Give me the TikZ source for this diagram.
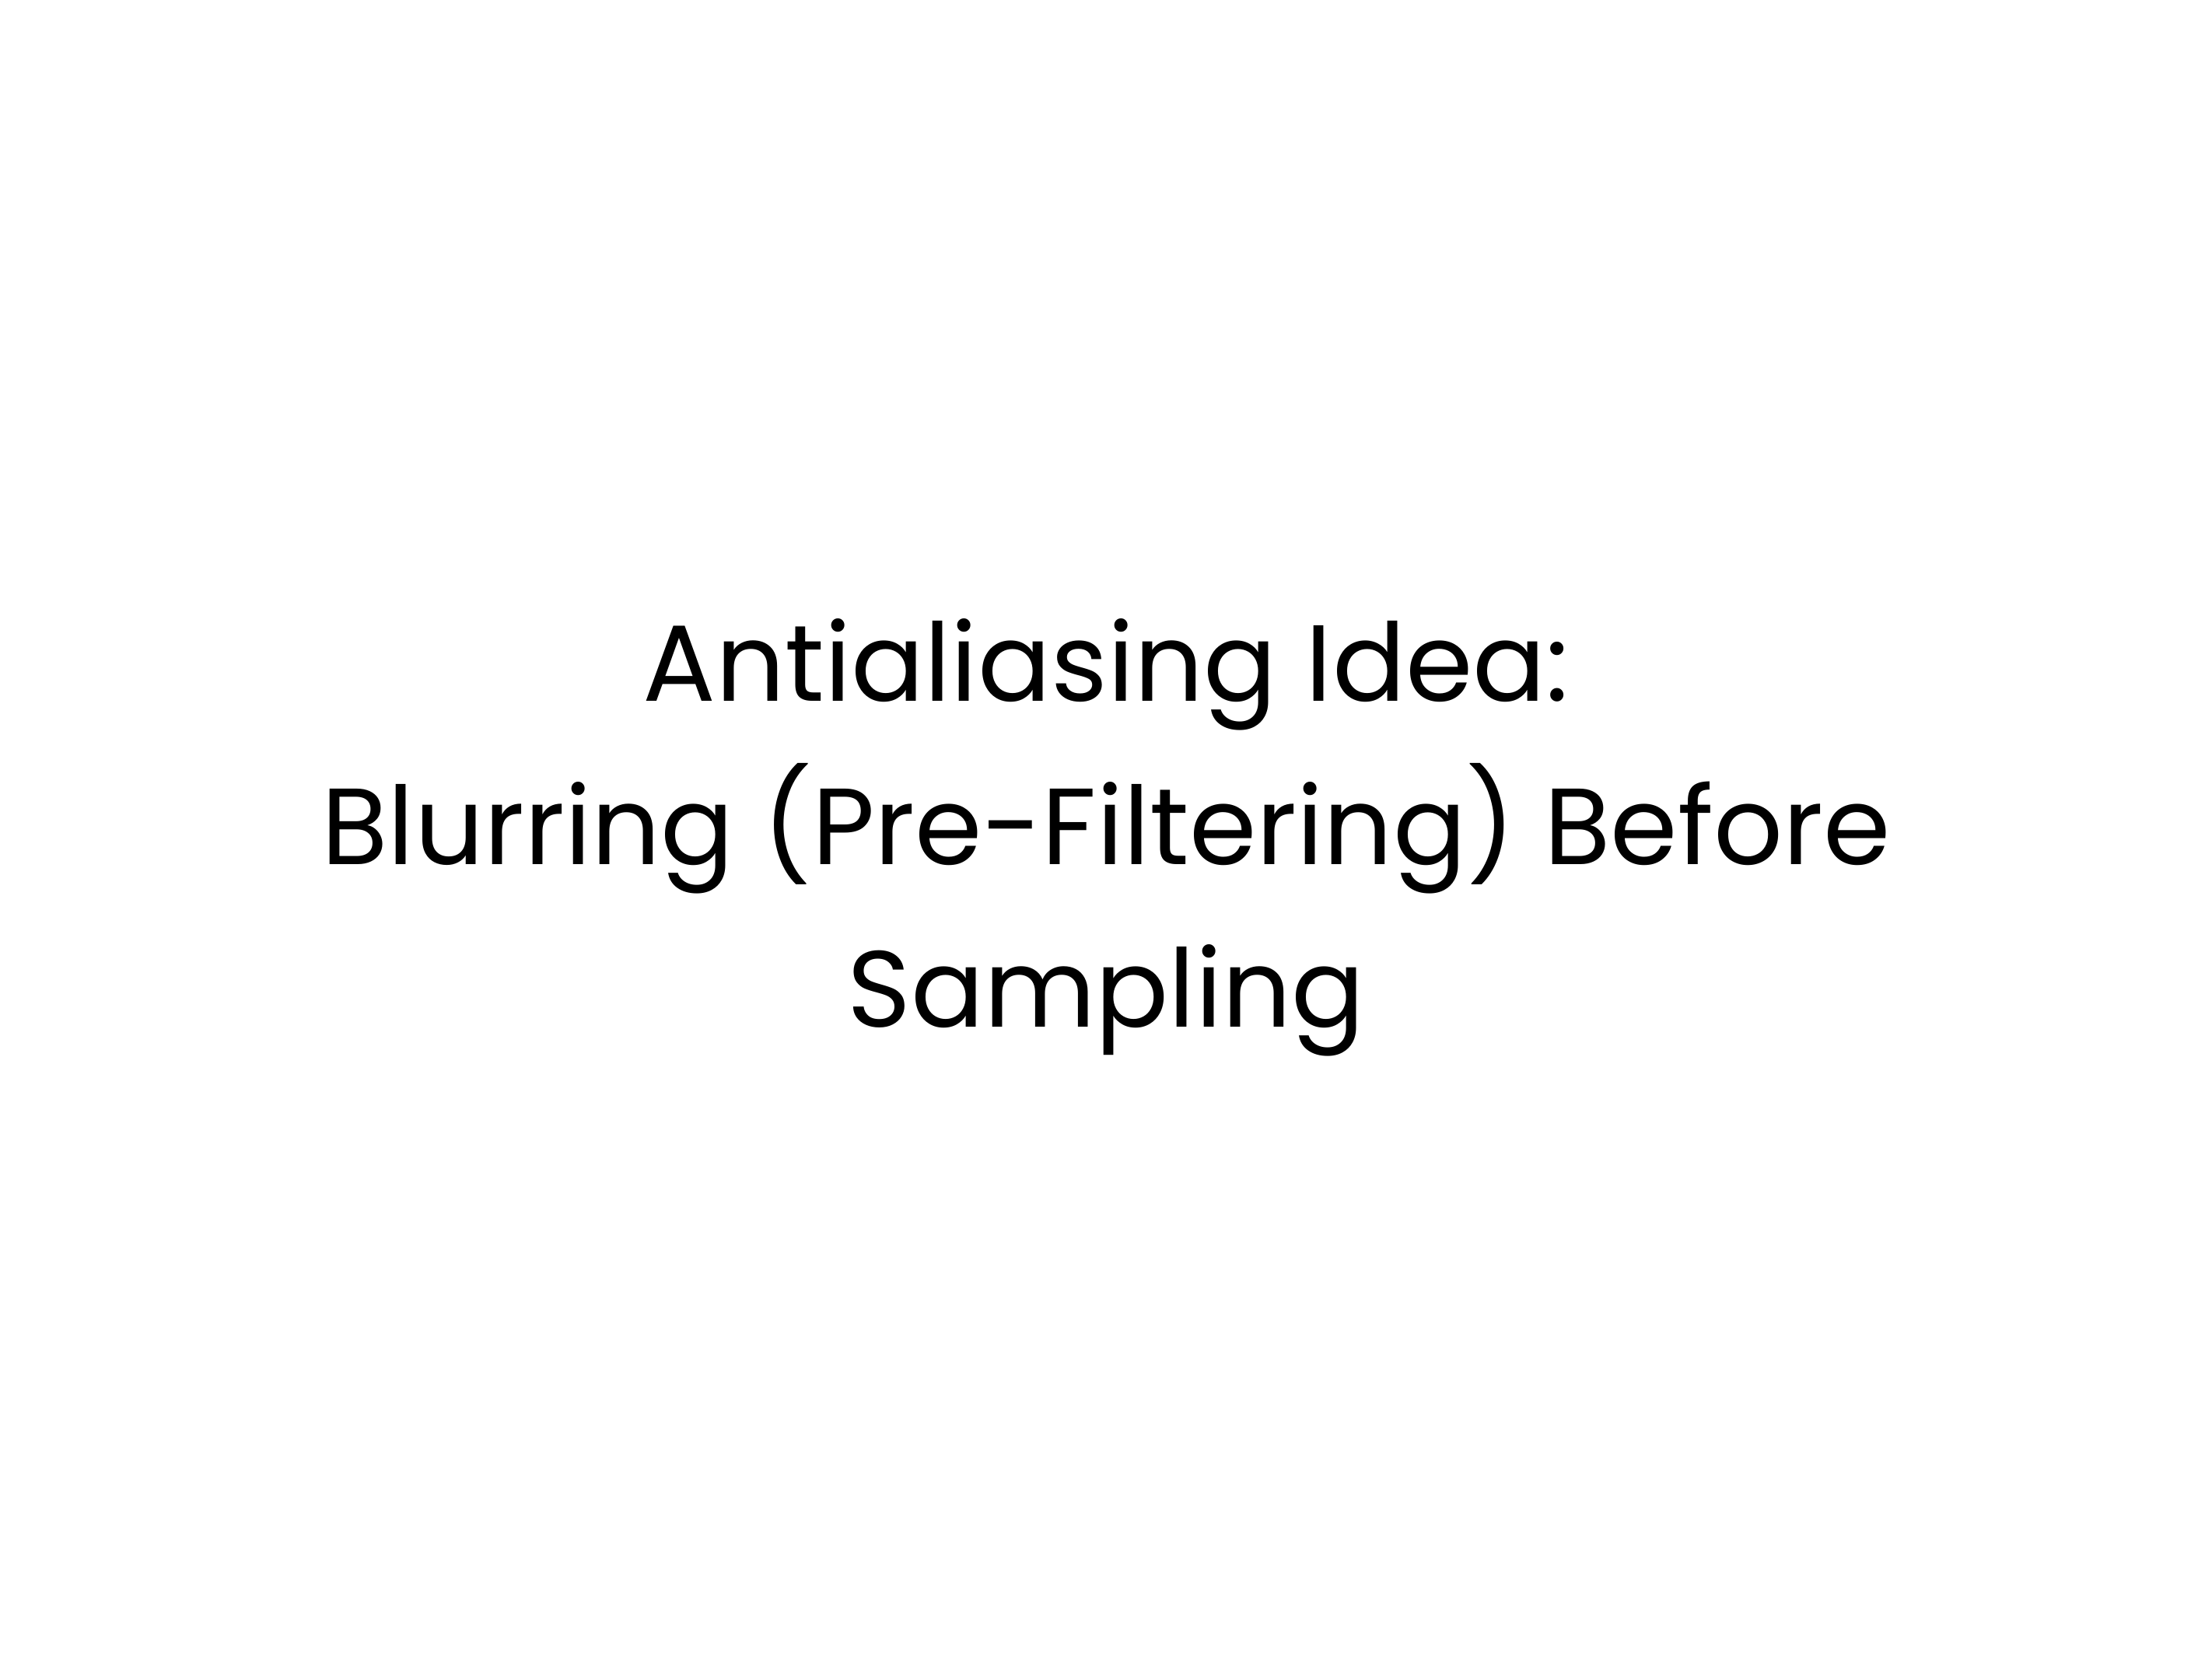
\documentclass[tikz,border=0pt]{standalone}
\usepackage{fontspec}
\setmainfont{Poppins}[Ligatures={NoCommon}]
\usepackage{xcolor}

\tikzset{titletext/.style={anchor=base,inner sep=0.75pt,font=\fontsize{38.4}{46}\selectfont}}

\begin{document}
\begin{tikzpicture}[x=0.5pt,y=0.5pt,yscale=-1,xscale=1]
%set diagram frame: 1568 x 1176
\path [use as bounding box,fill=white] (0,0) rectangle (1568,1176) ;

% Text Node
\draw (784,497) node (title1) [titletext] {Antialiasing Idea:};
% Text Node
\draw (784,613) node (title2) [titletext] {Blurring (Pre-Filtering) Before};
% Text Node
\draw (784,728) node (title3) [titletext] {Sampling};

\end{tikzpicture}
\end{document}
